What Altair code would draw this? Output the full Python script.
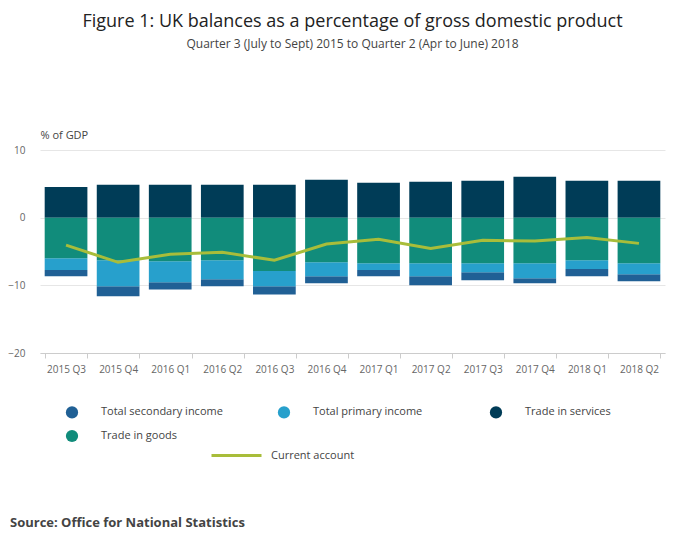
import altair as alt
import pandas as pd

quarters = ["2015 Q3", "2015 Q4", "2016 Q1", "2016 Q2", "2016 Q3", "2016 Q4",
            "2017 Q1", "2017 Q2", "2017 Q3", "2017 Q4", "2018 Q1", "2018 Q2"]
trade_services = [4.55, 4.85, 4.85, 4.85, 4.85, 5.6, 5.15, 5.3, 5.45, 6.05, 5.45, 5.45]
trade_goods = [-6.0, -6.3, -6.45, -6.3, -7.9, -6.6, -6.75, -6.75, -6.75, -6.75, -6.3, -6.75]
primary_income = [-1.75, -3.85, -3.1, -2.8, -2.25, -2.05, -1.0, -1.9, -1.3, -2.2, -1.3, -1.6]
secondary_income = [-0.9, -1.45, -1.05, -1.05, -1.2, -1.05, -0.9, -1.35, -1.2, -0.75, -1.05, -1.05]
current_account = [-4.05, -6.6, -5.4, -5.1, -6.3, -3.9, -3.2, -4.55, -3.35, -3.45, -2.95, -3.8]

series = ["Total secondary income", "Trade in services", "Total primary income", "Trade in goods"]
colors = ["#206095", "#003c57", "#27a0cc", "#118c7b"]
stack_order = {"Trade in services": 0, "Trade in goods": 1, "Total primary income": 2, "Total secondary income": 3}

rows = []
for name, vals in zip(["Total secondary income", "Total primary income", "Trade in services", "Trade in goods"],
                      [secondary_income, primary_income, trade_services, trade_goods]):
    for q, v in zip(quarters, vals):
        rows.append({"quarter": q, "series": name, "value": v, "ord": stack_order[name]})
bars_df = pd.DataFrame(rows)
line_df = pd.DataFrame({"quarter": quarters, "value": current_account, "series": "Current account"})

W, H = 625, 203
x = alt.X("quarter:N", sort=quarters, title=None,
          scale=alt.Scale(paddingInner=0.18, paddingOuter=0.09),
          axis=alt.Axis(labelAngle=0, tickBand="extent", labelPadding=6,
                        domainColor="#cccccc", tickColor="#cccccc", labelColor="#666666"))

bars = alt.Chart(bars_df).mark_bar().encode(
    x=x,
    y=alt.Y("value:Q", stack="zero", scale=alt.Scale(domain=[-20, 10]),
            axis=alt.Axis(values=[-20, -10, 0, 10], title="% of GDP", titleAngle=0,
                          titleAlign="left", titleX=0, titleY=-10, titleFontWeight="normal",
                          titleColor="#444444", titleFontSize=11, domain=False, ticks=False,
                          labelPadding=15, gridColor="#e6e6e6", labelColor="#666666")),
    order=alt.Order("ord:Q"),
    color=alt.Color("series:N", scale=alt.Scale(domain=series, range=colors),
                    legend=alt.Legend(title=None, orient="none", legendX=25, legendY=255,
                                      columns=3, symbolType="circle", symbolSize=150,
                                      symbolOpacity=1, labelOffset=22, columnPadding=54,
                                      rowPadding=10, labelFontSize=11, labelColor="#444444",
                                      labelLimit=200, gridAlign="all")),
)

line = alt.Chart(line_df).mark_line(strokeWidth=3).encode(
    x=alt.X("quarter:N", sort=quarters),
    y="value:Q",
    stroke=alt.Stroke("series:N", scale=alt.Scale(domain=["Current account"], range=["#a8bd3a"]),
                      legend=alt.Legend(title=None, orient="none", legendX=170, legendY=279,
                                        symbolType="stroke", symbolSize=2500, symbolStrokeWidth=3,
                                        labelOffset=8, labelFontSize=11, labelColor="#444444")),
)

source = alt.Chart(pd.DataFrame({"t": ["Source: Office for National Statistics"]})).mark_text(
    align="left", baseline="middle", fontWeight="bold", fontSize=13, color="#444444"
).encode(text="t:N", x=alt.value(-30), y=alt.value(H + 170))

chart = alt.layer(bars, line, source).resolve_scale(color="independent").properties(
    width=W, height=H,
    autosize=alt.AutoSizeParams(type="none"),
    padding={"left": 32, "top": 142, "right": 27, "bottom": 188},
    title=alt.TitleParams(
        "Figure 1: UK balances as a percentage of gross domestic product",
        subtitle="Quarter 3 (July to Sept) 2015 to Quarter 2 (Apr to June) 2018",
        anchor="middle", fontSize=18, fontWeight="normal", color="#222222",
        subtitleFontSize=12, subtitleColor="#444444", subtitlePadding=8, offset=79,
    ),
).configure(font="Open Sans").configure_view(strokeOpacity=0)

chart.save("out.html", embed_options={"renderer": "svg", "actions": False})
